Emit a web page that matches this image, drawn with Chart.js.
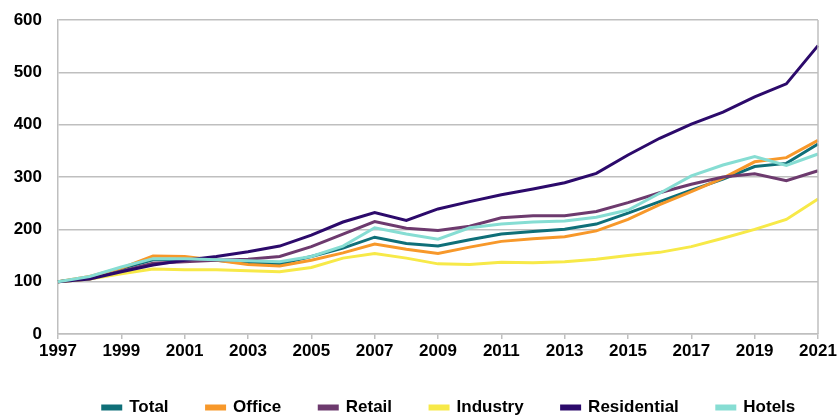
<!DOCTYPE html>
<html>
<head>
<meta charset="utf-8">
<script src="https://cdn.jsdelivr.net/npm/chart.js@4.4.1/dist/chart.umd.min.js"></script>
<style>
  html, body { margin: 0; padding: 0; background: #fff; }
  #wrap { width: 840px; height: 416px; }
</style>
</head>
<body>
<div id="wrap"><canvas id="chart"></canvas></div>
<script>
const years = ['1997','1998','1999','2000','2001','2002','2003','2004','2005','2006','2007','2008','2009','2010','2011','2012','2013','2014','2015','2016','2017','2018','2019','2020','2021']

const total       = [100, 108, 125, 142, 143, 141, 135, 134, 148, 164, 185, 173, 168, 180, 191, 196, 200, 210, 231, 253, 275, 296, 320, 326, 363]
const office      = [100, 110, 126, 149, 148, 141, 133, 130, 141, 155, 172, 162, 154, 166, 177, 182, 186, 197, 219, 247, 272, 298, 329, 337, 370]
const retail      = [100, 105, 120, 135, 138, 141, 143, 148, 167, 191, 215, 202, 198, 206, 222, 226, 226, 234, 251, 270, 286, 300, 306, 293, 312]
const industry    = [100, 105, 115, 124, 123, 123, 121, 119, 127, 145, 154, 145, 134, 133, 137, 136, 138, 143, 150, 156, 167, 183, 200, 219, 258]
const residential = [100, 105, 119, 132, 141, 148, 157, 168, 189, 214, 232, 217, 239, 253, 266, 277, 289, 307, 342, 374, 401, 424, 453, 478, 551]
const hotels      = [100, 110, 128, 144, 144, 142, 140, 138, 148, 168, 203, 191, 181, 203, 210, 214, 216, 223, 237, 269, 302, 323, 339, 322, 344]

const yTicks = [0, 100, 200, 300, 400, 500, 600]

const GRID = '#BFBFBF'
const tickFont = { family: "'Liberation Sans', Arial, sans-serif", size: 17, weight: 'bold' }

function series(label, data, color, order) {
    return {
        label: label,
        data: data,
        borderColor: color,
        backgroundColor: color,
        borderWidth: 3,
        pointRadius: 0,
        tension: 0,
        fill: false,
        order: order
    }
}

// right-hand border of the plot box; legend row moved down/right like the original
const frameRight = {
    id: 'frameRight',
    afterLayout(chart) {
        const lg = chart.legend
        if (lg) { lg.top += 10; lg.bottom += 10; lg.left += 40; lg.right += 40 }
        // x tick labels are clipped to the scale box, so let it reach down
        chart.scales.x.bottom += 30
    },
    afterDatasetsDraw(chart) {
        const a = chart.chartArea
        const c = chart.ctx
        c.save()
        c.strokeStyle = GRID
        c.lineWidth = 1.5
        c.beginPath()
        c.moveTo(a.right, a.top)
        c.lineTo(a.right, a.bottom)
        c.stroke()
        c.restore()
    }
}

let ctx = document.getElementById('chart').getContext('2d')
window.chart = new Chart(ctx, {
    type: 'line',
    data: {
        labels: years,
        datasets: [
            series('Total', total, '#0F6F78', 5),
            series('Office', office, '#F7982A', 4),
            series('Retail', retail, '#6D3A6E', 3),
            series('Industry', industry, '#F7E948', 2),
            series('Residential', residential, '#2C0A6B', 1),
            series('Hotels', hotels, '#86DDD3', 0)
        ]
    },
    plugins: [frameRight],
    options: {
        responsive: true,
        maintainAspectRatio: false,
        animation: false,
        layout: { padding: { left: 0, right: 22, top: 20, bottom: 0 } },
        scales: {
            x: {
                offset: false,
                grid: {
                    drawOnChartArea: false,
                    tickLength: 5,
                    tickColor: (c) => (c.index % 2 === 0 ? GRID : 'rgba(0,0,0,0)'),
                    lineWidth: 1.5
                },
                border: { color: GRID, width: 1.5 },
                ticks: {
                    autoSkip: false,
                    maxRotation: 0,
                    padding: 2,
                    color: '#000',
                    font: tickFont,
                    callback: function(v, i) { return i % 2 === 0 ? years[i] : '' }
                },
                afterFit: (s) => { s.height = 17 }
            },
            y: {
                min: 0,
                max: 600,
                afterBuildTicks: (s) => { s.ticks = yTicks.map(v => ({ value: v })) },
                grid: { color: GRID, lineWidth: 1.5, drawTicks: false },
                border: { color: GRID, width: 1.5 },
                ticks: { padding: 16, color: '#000', font: tickFont },
                afterFit: (s) => { s.width = 58; s.paddingTop = 0; s.paddingBottom = 0 }
            }
        },
        plugins: {
            tooltip: { enabled: false },
            legend: {
                position: 'bottom',
                labels: {
                    boxWidth: 18,
                    boxHeight: 3,
                    padding: 38,
                    color: '#000',
                    font: { family: "'Liberation Sans', Arial, sans-serif", size: 17, weight: 'bold' },
                    sort: (a, b) => a.datasetIndex - b.datasetIndex
                }
            }
        }
    }
})
</script>
</body>
</html>
